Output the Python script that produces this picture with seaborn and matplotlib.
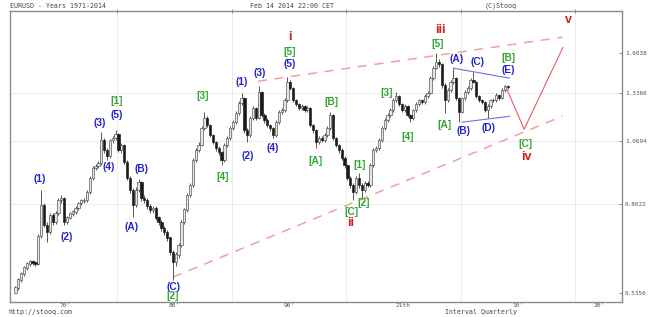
import numpy as np
import pandas as pd
import matplotlib
matplotlib.use("Agg")
import matplotlib.pyplot as plt
import seaborn as sns

# ---------------- data (EURUSD quarterly) ----------------
quarters = pd.period_range("1971Q1", "2014Q1", freq="Q")
first_open = 0.535
closes = [.547, .567, .583, .599, .610, .616, .613, .610, .693, .799,
          .729, .706, .763, .739, .770, .817, .825, .739, .753, .767,
          .774, .788, .806, .814, .817, .848, .904, .946, .955, .968,
          1.075, 1.027, .999, 1.075, 1.085, 1.105, 1.027, 1.051, .972, .904,
          .855, .799, .855, .887, .825, .817, .795, .781, .788, .753,
          .739, .719, .706, .687, .644, .616, .636, .665, .739, .781,
          .836, .875, .981, 1.027, 1.051, 1.135, 1.189, 1.151, 1.100, 1.065,
          1.036, 1.018, .981, 1.051, 1.085, 1.135, 1.167, 1.216, 1.273, 1.302,
          1.125, 1.100, 1.189, 1.244, 1.189, 1.339, 1.205, 1.178, 1.151, 1.135,
          1.100, 1.167, 1.222, 1.233, 1.290, 1.401, 1.363, 1.290, 1.267, 1.244,
          1.256, 1.233, 1.244, 1.151, 1.125, 1.065, 1.085, 1.075, 1.100, 1.135,
          1.205, 1.085, 1.051, 1.027, .990, .959, .904, .875, .848, .904,
          .875, .855, .883, .875, .959, 1.027, 1.036, 1.075, 1.135, 1.178,
          1.205, 1.233, 1.290, 1.314, 1.267, 1.233, 1.256, 1.205, 1.189, 1.233,
          1.267, 1.290, 1.279, 1.314, 1.332, 1.427, 1.494, 1.535, 1.521, 1.382,
          1.290, 1.351, 1.401, 1.427, 1.302, 1.222, 1.302, 1.339, 1.363, 1.414,
          1.401, 1.314, 1.290, 1.279, 1.233, 1.256, 1.290, 1.290, 1.320, 1.302,
          1.351, 1.375, 1.370]
highs = [.552, .572, .589, .605, .616, .622, .621, .618, .700, .855,
         .808, .740, .772, .770, .778, .826, .836, .830, .760, .773,
         .781, .795, .812, .822, .826, .856, .912, .955, .966, .978,
         1.115, 1.085, 1.035, 1.082, 1.096, 1.125, 1.112, 1.062, 1.058, .980,
         .912, .862, .866, .900, .892, .835, .825, .803, .797, .794,
         .760, .745, .726, .712, .692, .650, .645, .673, .746, .790,
         .845, .885, .990, 1.038, 1.065, 1.148, 1.220, 1.198, 1.160, 1.108,
         1.072, 1.045, 1.025, 1.060, 1.095, 1.145, 1.178, 1.228, 1.285, 1.335,
         1.310, 1.135, 1.200, 1.258, 1.250, 1.380, 1.345, 1.215, 1.188, 1.160,
         1.142, 1.178, 1.232, 1.245, 1.302, 1.435, 1.412, 1.372, 1.298, 1.275,
         1.266, 1.265, 1.258, 1.250, 1.160, 1.132, 1.096, 1.095, 1.110, 1.145,
         1.222, 1.212, 1.092, 1.058, 1.035, .998, .965, .912, .885, .912,
         .925, .885, .892, .892, .968, 1.036, 1.048, 1.085, 1.145, 1.190,
         1.218, 1.245, 1.302, 1.339, 1.322, 1.275, 1.266, 1.262, 1.212, 1.242,
         1.278, 1.300, 1.298, 1.325, 1.345, 1.440, 1.508, 1.6038, 1.560, 1.530,
         1.395, 1.362, 1.412, 1.494, 1.435, 1.310, 1.312, 1.350, 1.375, 1.425,
         1.466, 1.408, 1.322, 1.298, 1.286, 1.266, 1.300, 1.302, 1.332, 1.330,
         1.362, 1.385, 1.382]
lows = [.535, .543, .562, .578, .595, .605, .607, .605, .607, .688,
        .722, .675, .700, .730, .733, .765, .808, .728, .733, .748,
        .760, .768, .782, .798, .806, .812, .842, .897, .938, .946,
        .960, 1.015, .981, .992, 1.062, 1.075, 1.018, 1.015, .962, .895,
        .845, .756, .792, .848, .815, .806, .786, .772, .772, .745,
        .730, .710, .697, .678, .636, .567, .605, .628, .660, .733,
        .775, .828, .868, .972, 1.018, 1.045, 1.128, 1.140, 1.090, 1.055,
        1.025, 1.005, .960, .975, 1.042, 1.078, 1.125, 1.158, 1.208, 1.262,
        1.112, 1.065, 1.092, 1.180, 1.178, 1.182, 1.195, 1.165, 1.140, 1.120,
        1.085, 1.092, 1.158, 1.210, 1.225, 1.282, 1.350, 1.280, 1.255, 1.232,
        1.235, 1.222, 1.225, 1.140, 1.112, 1.036, 1.055, 1.065, 1.068, 1.092,
        1.128, 1.075, 1.040, 1.015, .980, .948, .895, .862, .817, .840,
        .865, .825, .848, .866, .868, .952, 1.018, 1.028, 1.068, 1.128,
        1.168, 1.196, 1.225, 1.282, 1.255, 1.222, 1.225, 1.195, 1.167, 1.180,
        1.225, 1.258, 1.268, 1.270, 1.305, 1.325, 1.418, 1.485, 1.505, 1.365,
        1.216, 1.278, 1.340, 1.392, 1.290, 1.167, 1.215, 1.292, 1.330, 1.355,
        1.395, 1.305, 1.280, 1.268, 1.222, 1.190, 1.248, 1.280, 1.282, 1.292,
        1.295, 1.342, 1.360]

y_ticks = [1.6038, 1.3366, 1.0694, 0.8022, 0.5350]
decade_ticks = [1980, 1990, 2000, 2010, 2020]
decade_labels = ["70'", "80'", "90'", "21th", "10'", "20'"]
decade_label_pos = [1975.5, 1985, 1995, 2005, 2015, 2022.1]

# Elliott wave labels: (text, year, price)
blue_labels = [("(1)", 1973.28, 0.899), ("(2)", 1975.63, 0.690), ("(3)", 1978.52, 1.162),
               ("(4)", 1979.30, 0.950), ("(5)", 1980.0, 1.205), ("(A)", 1981.31, 0.722),
               ("(B)", 1982.10, 0.9415), ("(C)", 1984.89, 0.549), ("(1)", 1990.92, 1.401),
               ("(2)", 1991.44, 0.998), ("(3)", 1992.49, 1.460), ("(4)", 1993.62, 1.035),
               ("(5)", 1995.11, 1.521), ("(A)", 2009.61, 1.556), ("(B)", 2010.22, 1.120),
               ("(C)", 2011.44, 1.535), ("(D)", 2012.40, 1.135), ("(E)", 2014.15, 1.480)]
green_labels = [("[1]", 1979.95, 1.284), ("[2]", 1984.89, 0.527), ("[3]", 1987.51, 1.314),
                ("[4]", 1989.26, 0.908), ("[5]", 1995.11, 1.607), ("[A]", 1997.29, 0.977),
                ("[B]", 1998.69, 1.279), ("[C]", 2000.44, 0.774), ("[1]", 2001.22, 0.959),
                ("[2]", 2001.57, 0.806), ("[3]", 2003.58, 1.332), ("[4]", 2005.41, 1.090),
                ("[5]", 2008.03, 1.667), ("[A]", 2008.56, 1.151), ("[B]", 2014.15, 1.563),
                ("[C]", 2015.63, 1.055)]
red_labels = [("i", 1995.11, 1.721), ("ii", 2000.44, 0.736), ("iii", 2008.21, 1.777),
              ("iv", 2015.72, 0.995), ("v", 2019.39, 1.860)]

channel_upper_x = [1992.3, 2018.9]
channel_upper_y = [1.407, 1.721]
channel_lower_x = [1984.9, 2018.9]
channel_lower_y = [0.575, 1.1995]
tri_upper_x = [2009.35, 2014.3]
tri_upper_y = [1.494, 1.427]
tri_lower_x = [2010.13, 2014.3]
tri_lower_y = [1.167, 1.199]
proj_x = [2013.9, 2015.55, 2018.95]
proj_y = [1.382, 1.130, 1.644]

# ---------------- figure ----------------
sns.set_style("white")
plt.rcParams["font.family"] = ["DejaVu Sans Mono", "DejaVu Sans"]

W, H = 650, 317
fig = plt.figure(figsize=(W / 100, H / 100), dpi=100)
ax = fig.add_axes([10 / W, (H - 302) / H, 612 / W, 291 / H])

t = quarters.year + (quarters.quarter - 1) / 4 + 0.125
df = pd.DataFrame({"t": t, "close": closes, "high": highs, "low": lows})
df["open"] = [first_open] + closes[:-1]
up = df["close"] >= df["open"]

ax.set_yscale("log")
ax.set_ylim(0.513, 1.94)
ax.set_xlim(1970.65, 2024.1)

# grid
for v in y_ticks[1:4]:
    ax.axhline(v, color="#ececec", lw=0.7, zorder=0)
for d in decade_ticks:
    ax.axvline(d, color="#ececec", lw=0.7, zorder=0)

# channel lines
sns.lineplot(x=channel_upper_x, y=channel_upper_y, ax=ax, color="#f2a0a0", lw=1.1,
             zorder=1).lines[-1].set_dashes([6, 5])
sns.lineplot(x=channel_lower_x, y=channel_lower_y, ax=ax, color="#f2a0a0", lw=1.1,
             zorder=1).lines[-1].set_dashes([6, 5])

# candles
ax.vlines(df["t"], df["low"], df["high"], color="#3a3a3a", lw=0.6, zorder=2)
body_bottom = np.minimum(df["open"], df["close"])
body_height = np.abs(df["close"] - df["open"]) + 0.002
ax.bar(df["t"][up], body_height[up], bottom=body_bottom[up], width=0.2,
       color="#e6e6e6", edgecolor="#4a4a4a", lw=0.45, zorder=3)
ax.bar(df["t"][~up], body_height[~up], bottom=body_bottom[~up], width=0.2,
       color="#1a1a1a", edgecolor="#1a1a1a", lw=0.45, zorder=3)

# triangle and projection
sns.lineplot(x=tri_upper_x, y=tri_upper_y, ax=ax, color="#7070e0", lw=0.8, zorder=4)
sns.lineplot(x=tri_lower_x, y=tri_lower_y, ax=ax, color="#7070e0", lw=0.8, zorder=4)
ax.plot(proj_x, proj_y, color="#e06060", lw=0.8, zorder=4)

# wave labels
lab_font = ["Liberation Sans", "DejaVu Sans"]
for txt, x, y in blue_labels:
    ax.text(x, y, txt, color="#2424c8", fontsize=7.3, fontweight="bold",
            family=lab_font, ha="center", va="center", zorder=5)
for txt, x, y in green_labels:
    ax.text(x, y, txt, color="#33a533", fontsize=7.3, fontweight="bold",
            family=lab_font, ha="center", va="center", zorder=5)
for txt, x, y in red_labels:
    ax.text(x, y, txt, color="#c81e1e", fontsize=9, fontweight="bold",
            family=lab_font, ha="center", va="center", zorder=5)

# axes styling
for s in ax.spines.values():
    s.set_color("#8a8a8a")
    s.set_linewidth(1.0)
ax.yaxis.tick_right()
ax.set_yticks(y_ticks)
ax.set_yticklabels([f"{v:.4f}" for v in y_ticks])
ax.yaxis.set_minor_locator(matplotlib.ticker.NullLocator())
ax.tick_params(axis="y", which="major", direction="in", length=2, width=0.6,
               color="#777777", labelsize=4.3, labelcolor="#555555", pad=2)
ax.set_xticks(decade_ticks)
ax.set_xticklabels([""] * len(decade_ticks))
ax.set_xticks(decade_label_pos, minor=True)
ax.set_xticklabels(decade_labels, minor=True)
ax.tick_params(axis="x", which="major", direction="inout", length=3, width=0.6,
               color="#777777", top=True)
ax.tick_params(axis="x", which="minor", length=0, labelsize=4.5,
               labelcolor="#555555", pad=1)

# header / footer
txt_kw = dict(fontsize=4.8, color="#444444", va="center")
fig.text(10 / W, 1 - 5.5 / H, "EURUSD - Years 1971-2014", ha="left", **txt_kw)
fig.text(292 / W, 1 - 5.5 / H, "Feb 14 2014 22:00 CET", ha="center", **txt_kw)
fig.text(517 / W, 1 - 5.5 / H, "(C)Stooq", ha="right", **txt_kw)
fig.text(8 / W, 1 - 312 / H, "http://stooq.com", ha="left", **txt_kw)
fig.text(517 / W, 1 - 312 / H, "Interval Quarterly", ha="right", **txt_kw)

fig.savefig("out.png", dpi=100)
